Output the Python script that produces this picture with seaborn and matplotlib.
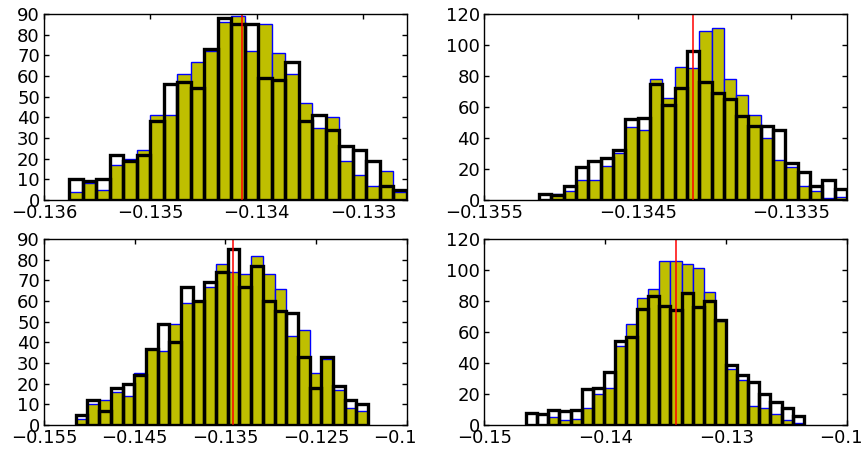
import numpy as np
import pandas as pd
import matplotlib.pyplot as plt
import seaborn as sns
from matplotlib.transforms import Bbox

# all four panels use 25 equal bins; ranges
n_bins = 25
range_a = (-0.135764, -0.132591)
range_b = (-0.1351435, -0.133137)
range_c = (-0.151498, -0.11924)
range_d = (-0.146556, -0.123581)

# red reference line
true_value = -0.13414

# top left
filled_a = [4, 8, 5, 17, 20, 24, 41, 41, 61, 67, 72, 86, 89, 72, 85, 71, 61, 47, 35, 40, 19, 12, 7, 14, 4]
outline_a = [10, 9, 10, 22, 19, 22, 38, 56, 57, 54, 73, 88, 85, 85, 59, 58, 67, 38, 41, 34, 26, 24, 19, 7, 5]

# top right
filled_b = [0, 4, 6, 13, 13, 22, 30, 47, 45, 78, 66, 86, 85, 109, 111, 78, 68, 55, 40, 26, 21, 9, 6, 1, 2]
outline_b = [4, 3, 9, 21, 25, 27, 32, 52, 53, 75, 61, 72, 96, 76, 69, 65, 54, 48, 48, 45, 24, 18, 9, 13, 7]

# bottom left
filled_c = [3, 10, 12, 16, 14, 25, 37, 36, 49, 59, 60, 67, 78, 74, 73, 82, 73, 66, 43, 46, 25, 32, 17, 8, 7]
outline_c = [5, 12, 7, 18, 20, 24, 37, 49, 40, 67, 60, 69, 74, 85, 67, 77, 60, 55, 54, 33, 18, 33, 19, 12, 10]

# bottom right
filled_d = [0, 0, 5, 3, 4, 11, 20, 24, 51, 65, 82, 88, 106, 106, 104, 101, 86, 67, 36, 29, 12, 11, 7, 3, 1]
outline_d = [8, 7, 10, 9, 10, 23, 24, 34, 54, 57, 75, 83, 77, 74, 85, 76, 80, 68, 39, 32, 28, 20, 15, 11, 6]

xticks_a = [-0.136, -0.135, -0.134, -0.133]
xticks_b = [-0.1355, -0.1345, -0.1335]
xticks_c = [-0.155, -0.145, -0.135, -0.125, -0.115]
xticks_d = [-0.15, -0.14, -0.13, -0.12]

sns.set_theme(style="ticks", rc={
    "axes.edgecolor": "black",
    "axes.linewidth": 1.0,
    "text.color": "black",
    "xtick.color": "black",
    "ytick.color": "black",
    "axes.formatter.useoffset": False,
})
plt.rcParams["font.family"] = ["DejaVu Sans"]

fig, axes = plt.subplots(2, 2, figsize=(8.61, 4.5), dpi=100)
fig.subplots_adjust(left=44 / 861, right=847 / 861, bottom=25 / 450, top=436 / 450,
                    wspace=0.215, hspace=0.21)


def draw_panel(ax, rng, filled, outline, xlim, xticks, ymax, ystep):
    edges = np.linspace(rng[0], rng[1], n_bins + 1)
    hist_df = pd.DataFrame({"center": (edges[:-1] + edges[1:]) / 2,
                            "filled": filled, "outline": outline})
    sns.histplot(data=hist_df, x="center", weights="filled", bins=n_bins, binrange=rng,
                 color="#bfbf00", edgecolor="blue", linewidth=1.0, alpha=1, ax=ax)
    sns.histplot(data=hist_df, x="center", weights="outline", bins=n_bins, binrange=rng,
                 fill=False, color="black", linewidth=2.4, ax=ax)
    ax.axvline(true_value, color="red", linewidth=1.1)
    ax.set_xlim(xlim)
    ax.set_ylim(0, ymax)
    ax.set_xticks(xticks)
    ax.set_yticks(range(0, ymax + 1, ystep))
    ax.set_xlabel("")
    ax.set_ylabel("")
    ax.tick_params(direction="in", top=True, right=True, length=3.6, width=1,
                   labelsize=13, pad=3)


draw_panel(axes[0, 0], range_a, filled_a, outline_a, (-0.136, range_a[1]), xticks_a, 90, 10)
draw_panel(axes[0, 1], range_b, filled_b, outline_b, (-0.1355, range_b[1]), xticks_b, 120, 20)
draw_panel(axes[1, 0], range_c, filled_c, outline_c, (-0.155, -0.115), xticks_c, 90, 10)
draw_panel(axes[1, 1], range_d, filled_d, outline_d, (-0.15, -0.12), xticks_d, 120, 20)

# last tick label of the bottom-left panel is cut off in the original
clip = Bbox.from_extents(0, 0, 417, 450)
for lab in axes[1, 0].get_xticklabels():
    lab.set_clip_box(clip)
    lab.set_clip_on(True)

plt.savefig("out.png", dpi=100)
